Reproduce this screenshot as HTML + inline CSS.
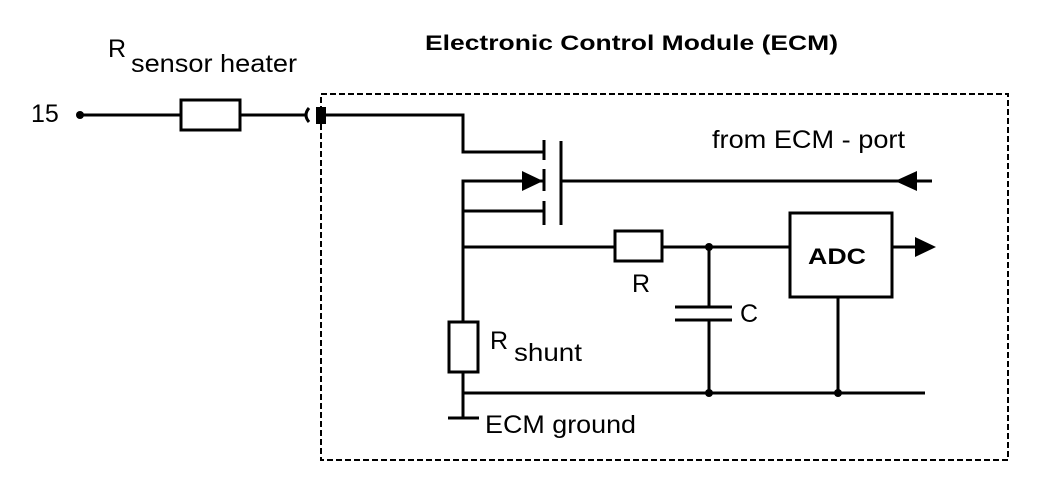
<!DOCTYPE html>
<html><head><style>
html,body{margin:0;padding:0;background:#fff;}
svg{display:block;}
text{font-family:"Liberation Sans",Arial,sans-serif;fill:#000;}
</style></head><body>
<svg width="1056" height="498" viewBox="0 0 1056 498" xmlns="http://www.w3.org/2000/svg">
<g stroke="#000" stroke-width="3" fill="none">
<rect x="321" y="94" width="687" height="366" stroke-width="2" stroke-dasharray="6,3"/>
<line x1="80" y1="115" x2="181" y2="115"/>
<rect x="181" y="100" width="59" height="30"/>
<line x1="240" y1="115" x2="305" y2="115"/>
<path d="M309 108 Q303 115 309 122" stroke-width="3"/>
<polyline points="325,115 463,115 463,152 544,152"/>
<line x1="544" y1="140" x2="544" y2="160"/>
<line x1="544" y1="169" x2="544" y2="191"/>
<line x1="544" y1="201" x2="544" y2="225"/>
<line x1="561" y1="141" x2="561" y2="225"/>
<polyline points="544,181 463,181 463,322"/>
<line x1="463" y1="372" x2="463" y2="393"/>
<line x1="462" y1="211" x2="544" y2="211"/>
<line x1="561" y1="181" x2="932" y2="181"/>
<line x1="463" y1="247" x2="615" y2="247"/>
<rect x="615" y="231" width="47" height="30"/>
<line x1="662" y1="247" x2="790" y2="247"/>
<rect x="790" y="213" width="102" height="84"/>
<line x1="892" y1="247" x2="915" y2="247"/>
<line x1="709" y1="247" x2="709" y2="307"/>
<line x1="675" y1="307" x2="732" y2="307"/>
<line x1="675" y1="320" x2="732" y2="320"/>
<line x1="709" y1="320" x2="709" y2="393"/>
<line x1="838" y1="297" x2="838" y2="393"/>
<rect x="449" y="322" width="29" height="50"/>
<line x1="463" y1="393" x2="925" y2="393"/>
<line x1="463" y1="393" x2="463" y2="418"/>
<line x1="448" y1="418" x2="479" y2="418"/>
</g>
<rect x="316" y="107" width="10" height="17" fill="#000"/>
<circle cx="80" cy="115" r="4" fill="#000"/>
<circle cx="709" cy="247" r="4" fill="#000"/>
<circle cx="709" cy="393" r="4" fill="#000"/>
<circle cx="838" cy="393" r="4" fill="#000"/>
<polygon points="522,171 522,191 543,181" fill="#000"/>
<polygon points="895,181 917,171 917,191" fill="#000"/>
<polygon points="936,247 915,237 915,257" fill="#000"/>
<text x="425" y="50" font-size="21" font-weight="bold" textLength="413" lengthAdjust="spacingAndGlyphs">Electronic Control Module (ECM)</text>
<text x="108" y="57" font-size="25">R</text>
<text x="131" y="72" font-size="25" textLength="166" lengthAdjust="spacingAndGlyphs">sensor heater</text>
<text x="31" y="122" font-size="25">15</text>
<text x="712" y="148" font-size="25" textLength="193" lengthAdjust="spacingAndGlyphs">from ECM - port</text>
<text x="808" y="264" font-size="22" font-weight="bold" textLength="58" lengthAdjust="spacingAndGlyphs">ADC</text>
<text x="632" y="292" font-size="25">R</text>
<text x="740" y="322" font-size="25">C</text>
<text x="490" y="349" font-size="25">R</text>
<text x="514" y="361" font-size="25" textLength="68" lengthAdjust="spacingAndGlyphs">shunt</text>
<text x="485" y="433" font-size="25" textLength="151" lengthAdjust="spacingAndGlyphs">ECM ground</text>
</svg>
</body></html>
